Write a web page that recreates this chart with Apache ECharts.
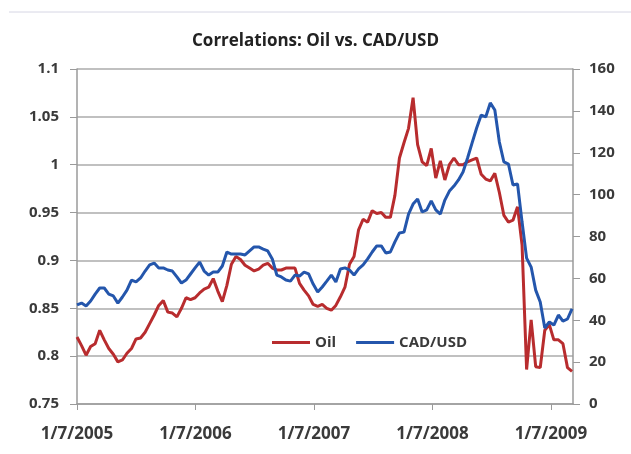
<!DOCTYPE html>
<html>
<head>
<meta charset="utf-8">
<script src="https://cdn.jsdelivr.net/npm/echarts@6/dist/echarts.min.js"></script>
<style>
  html, body { margin: 0; padding: 0; background: #fff; }
  #chart { width: 631px; height: 454px; }
</style>
</head>
<body>
<div id="chart"></div>
<script>
// samples every two weeks, starting 1/7/2005
const stepDays = 14;
const yearLabels = ['1/7/2005', '1/7/2006', '1/7/2007', '1/7/2008', '1/7/2009'];

// red line, left axis
const oilSeries = [
  0.820, 0.811, 0.801, 0.810, 0.813, 0.827, 0.817, 0.808, 0.802, 0.794,
  0.796, 0.803, 0.808, 0.818, 0.819, 0.825, 0.834, 0.843, 0.853, 0.858,
  0.846, 0.845, 0.841, 0.850, 0.861, 0.859, 0.861, 0.866, 0.870, 0.872,
  0.881, 0.868, 0.857, 0.874, 0.896, 0.904, 0.901, 0.895, 0.892, 0.889,
  0.891, 0.895, 0.897, 0.892, 0.890, 0.890, 0.892, 0.892, 0.892, 0.876,
  0.869, 0.863, 0.854, 0.852, 0.854, 0.850, 0.848, 0.853, 0.862, 0.872,
  0.896, 0.904, 0.932, 0.943, 0.940, 0.952, 0.949, 0.950, 0.945, 0.945,
  0.968, 1.007, 1.023, 1.038, 1.070, 1.021, 1.003, 0.999, 1.017, 0.986,
  1.004, 0.984, 1.000, 1.007, 1.000, 1.000, 1.003, 1.005, 1.007, 0.990,
  0.985, 0.983, 0.991, 0.971, 0.947, 0.940, 0.942, 0.956, 0.916, 0.786,
  0.838, 0.789, 0.788, 0.827, 0.833, 0.817, 0.817, 0.813, 0.788, 0.784
];

// blue line, right axis
const cadSeries = [
  47.3, 48.2, 46.8, 49.2, 52.5, 55.4, 55.4, 52.5, 51.6, 48.2,
  51.1, 54.4, 59.2, 58.3, 60.2, 63.5, 66.4, 67.3, 65.0, 65.0,
  64.0, 63.5, 60.7, 57.8, 59.2, 62.1, 65.0, 67.8, 63.5, 61.6,
  63.0, 63.0, 65.9, 72.6, 71.6, 71.6, 71.6, 71.2, 73.1, 75.0,
  75.0, 74.0, 73.1, 69.3, 61.6, 60.7, 59.2, 58.7, 61.6, 61.1,
  63.0, 62.1, 57.3, 53.5, 55.9, 58.7, 61.6, 58.3, 64.5, 65.0,
  64.0, 61.6, 64.5, 66.4, 69.3, 72.6, 75.5, 75.5, 72.1, 72.6,
  77.4, 81.7, 82.1, 90.7, 95.5, 97.9, 91.7, 92.7, 97.0, 92.7,
  90.7, 97.4, 101.7, 104.1, 107.0, 110.8, 117.5, 124.7, 131.8, 138.0,
  137.1, 143.8, 140.4, 125.1, 115.6, 114.6, 104.6, 105.1, 86.9, 69.7,
  65.4, 54.4, 48.7, 36.3, 39.2, 37.7, 42.5, 39.6, 40.6, 45.4
];

const yearDays = 365.25;
const labelFont = { color: '#3a3a3a', fontSize: 15, fontWeight: 'bold', fontFamily: 'Open Sans' };

const chart = echarts.init(document.getElementById('chart'), null, { renderer: 'canvas' });

const option = {
  backgroundColor: '#fff',
  animation: false,
  title: {
    text: 'Correlations: Oil vs. CAD/USD',
    left: 'center',
    top: 28,
    textStyle: { color: '#222', fontSize: 17, fontWeight: 'bold', fontFamily: 'Open Sans' }
  },
  graphic: [{
    type: 'line',
    shape: { x1: 9, y1: 12, x2: 631, y2: 12 },
    style: { stroke: '#d6d6e4', lineWidth: 1 }
  }],
  legend: {
    left: 267,
    top: 330,
    itemWidth: 38,
    itemHeight: 3,
    itemGap: 20,
    icon: 'rect',
    textStyle: { color: '#3a3a3a', fontSize: 15, fontWeight: 'bold', fontFamily: 'Open Sans', padding: [0, 0, 0, 0] },
    data: ['Oil', 'CAD/USD']
  },
  grid: { left: 77, right: 58, top: 69, bottom: 50 },
  xAxis: {
    type: 'value',
    min: 0,
    max: 1529,
    interval: yearDays,
    axisLine: { show: true, lineStyle: { color: '#9a9a9a', width: 1.5 } },
    axisTick: { show: true, length: 6, lineStyle: { color: '#9a9a9a' } },
    splitLine: { show: false },
    axisLabel: Object.assign({}, labelFont, {
      fontSize: 17,
      margin: 22,
      showMaxLabel: false,
      formatter: function (v) {
        const k = Math.round(v / yearDays);
        if (Math.abs(v - k * yearDays) > 1) return '';
        return yearLabels[k] || '';
      }
    })
  },
  yAxis: [{
    type: 'value',
    min: 0.75,
    max: 1.1,
    interval: 0.05,
    axisLine: { show: true, lineStyle: { color: '#9a9a9a', width: 1.5 } },
    axisTick: { show: true, length: 7, lineStyle: { color: '#9a9a9a' } },
    splitLine: { show: true, lineStyle: { color: '#ababab', width: 1.5 } },
    axisLabel: Object.assign({}, labelFont, { margin: 18 })
  }, {
    type: 'value',
    min: 0,
    max: 160,
    interval: 20,
    axisLine: { show: true, lineStyle: { color: '#9a9a9a', width: 1.5 } },
    axisTick: { show: true, length: 7, lineStyle: { color: '#9a9a9a' } },
    splitLine: { show: false },
    axisLabel: Object.assign({}, labelFont, { margin: 16 })
  }],
  series: [{
    name: 'Oil',
    type: 'line',
    yAxisIndex: 0,
    showSymbol: false,
    color: '#b82c2e',
    lineStyle: { width: 3, color: '#b82c2e' },
    data: oilSeries.map((v, i) => [i * stepDays, v]),
    z: 2
  }, {
    name: 'CAD/USD',
    type: 'line',
    yAxisIndex: 1,
    showSymbol: false,
    color: '#2456ac',
    lineStyle: { width: 3, color: '#2456ac' },
    data: cadSeries.map((v, i) => [i * stepDays, v]),
    z: 3
  }]
};

chart.setOption(option);
</script>
</body>
</html>
